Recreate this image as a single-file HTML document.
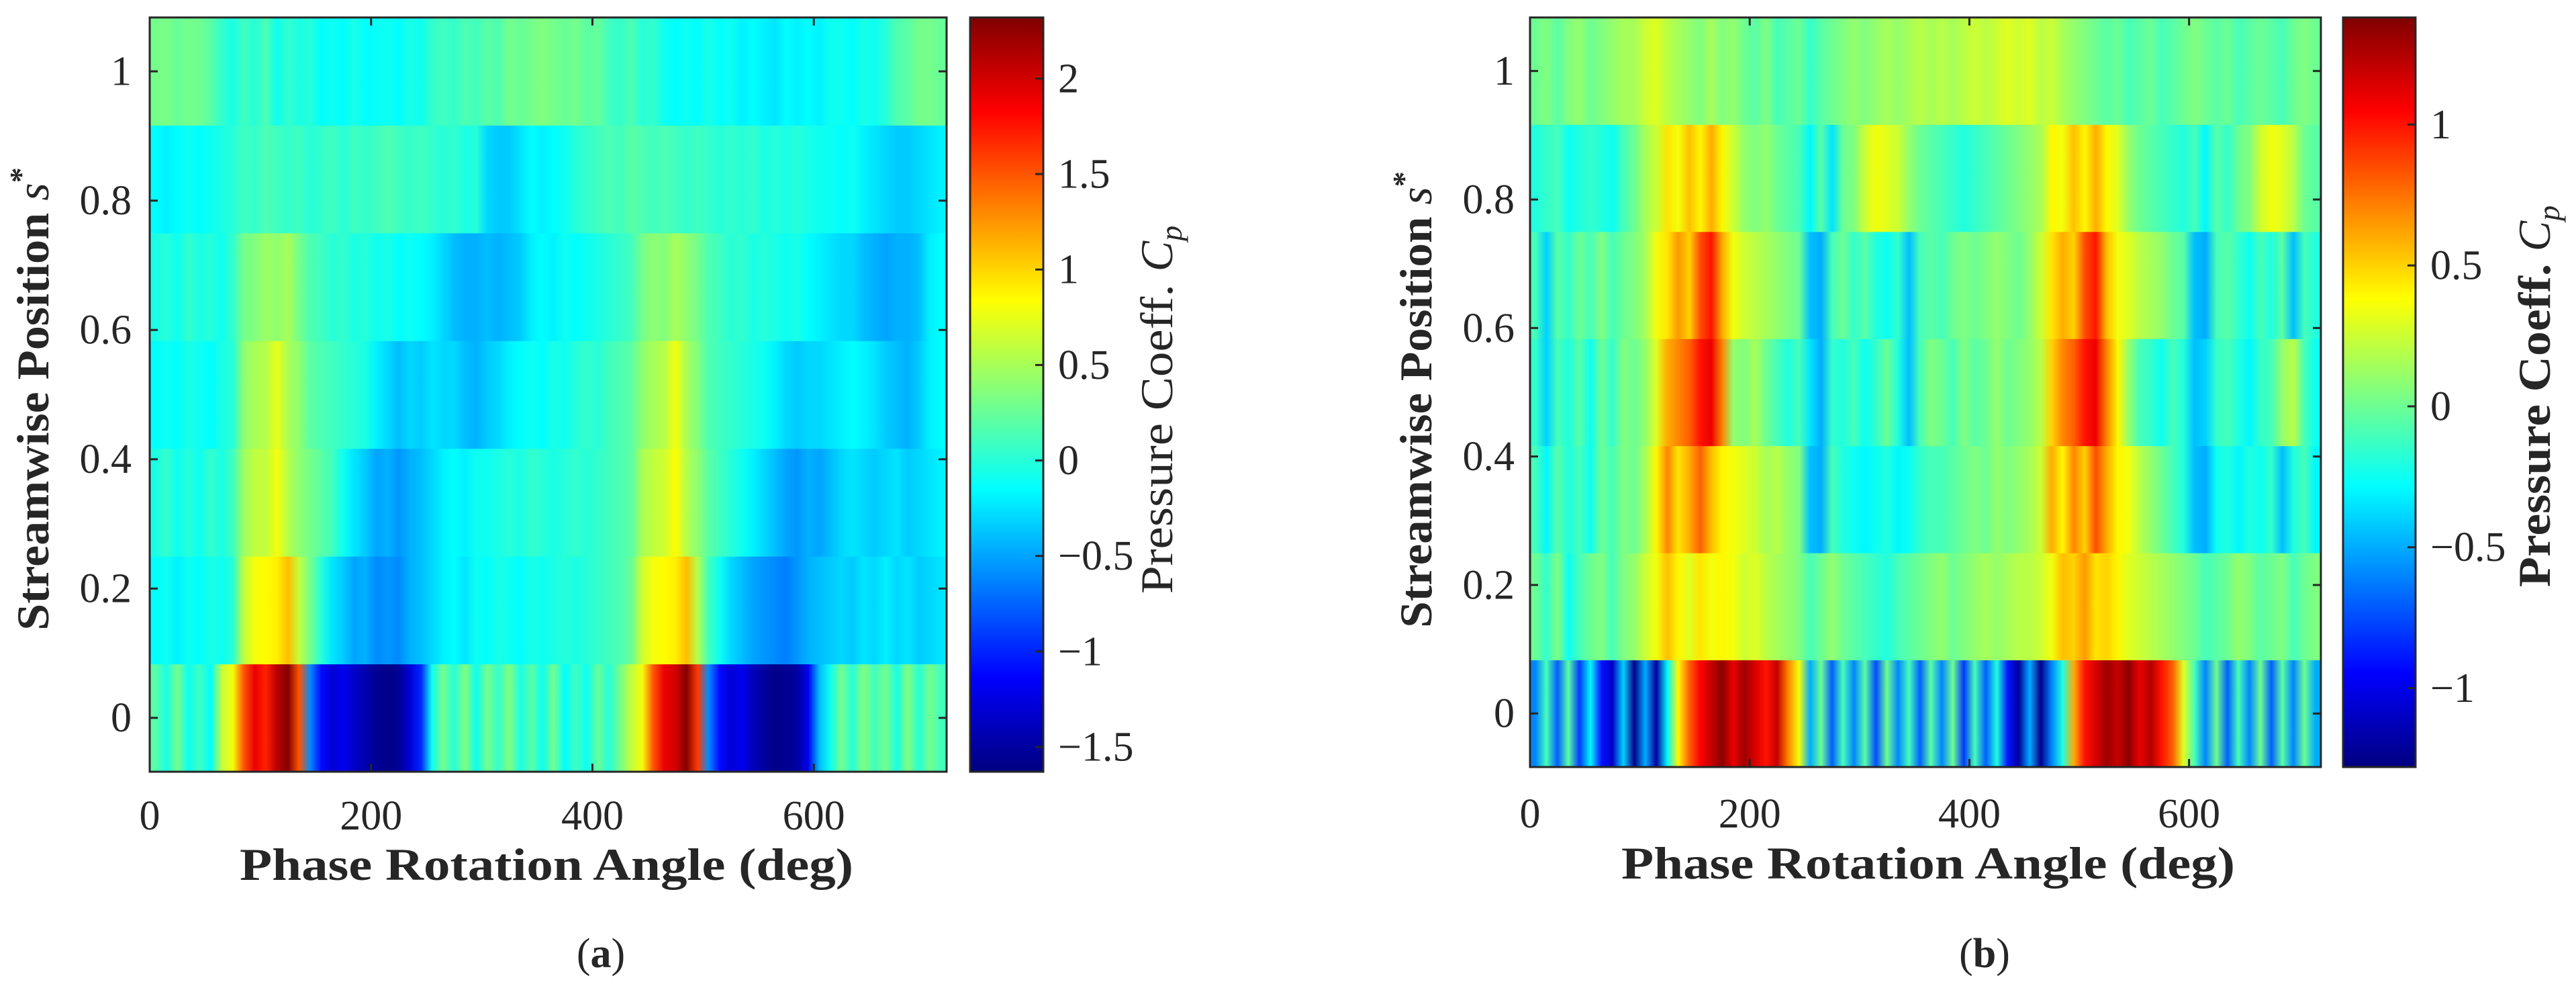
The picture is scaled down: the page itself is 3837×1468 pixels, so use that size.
<!DOCTYPE html>
<html><head><meta charset="utf-8"><style>
html,body{margin:0;padding:0;background:#fff;}
svg{display:block;}
text{font-family:"Liberation Serif",serif;fill:#262626;}
</style></head><body>
<svg id="fig" width="3837" height="1468" viewBox="0 0 3837 1468" xmlns="http://www.w3.org/2000/svg">
<defs id="defs"></defs>
</svg>
<script>
// ---------- data ----------
const rowPositions = [0, 1/6, 2/6, 3/6, 4/6, 5/6, 1];
const xTicks = [0, 200, 400, 600];
const yTicks = [0, 0.2, 0.4, 0.6, 0.8, 1];
const yTickLabels = ["0", "0.2", "0.4", "0.6", "0.8", "1"];
const cbTicksA = [-1.5, -1, -0.5, 0, 0.5, 1, 1.5, 2];
const cbTickLabelsA = ["\u22121.5", "\u22121", "\u22120.5", "0", "0.5", "1", "1.5", "2"];
const cbTicksB = [-1, -0.5, 0, 0.5, 1];
const cbTickLabelsB = ["\u22121", "\u22120.5", "0", "0.5", "1"];
const climA = [-1.63, 2.32];
const climB = [-1.28, 1.38];
// panel (a) rows, s = 0 ... 1, 72 bins of 10 deg
const a_s0 = [0.2,-0.05,0.3,-0.1,0.1,-0.15,0.6,0.8,1.5,1.9,1.7,2.1,2.3,1.5,-0.6,-1.1,-1.3,-1.2,-1.35,-1.45,-1.55,-1.6,-1.55,-1.3,-1.0,-0.1,0.3,0.0,0.35,-0.1,0.3,0.05,0.35,-0.05,0.2,-0.1,0.3,-0.15,0.1,-0.1,0.25,0.0,0.3,0.6,0.8,1.5,1.9,2.0,2.3,1.6,-0.6,-1.1,-1.3,-1.2,-1.4,-1.5,-1.6,-1.55,-1.5,-1.2,-0.4,-0.1,0.3,0.0,0.35,0.1,0.3,-0.05,0.35,0.0,0.3,0.1];
const a_s1 = [-0.15,-0.1,-0.2,-0.1,-0.15,-0.05,-0.1,0.0,0.6,0.8,0.85,0.9,1.1,0.6,0.3,0.0,-0.25,-0.35,-0.5,-0.45,-0.6,-0.55,-0.6,-0.45,-0.4,-0.3,-0.2,-0.15,-0.25,-0.1,-0.15,-0.05,-0.1,-0.15,-0.05,-0.1,-0.05,0.0,-0.05,0.0,0.05,0.1,0.15,0.25,0.65,0.8,0.85,0.9,1.1,0.55,0.1,-0.1,-0.3,-0.4,-0.5,-0.55,-0.6,-0.65,-0.55,-0.45,-0.4,-0.35,-0.3,-0.35,-0.25,-0.3,-0.2,-0.3,-0.25,-0.35,-0.3,-0.25];
const a_s2 = [-0.05,0.05,-0.1,0.0,-0.1,0.05,-0.05,0.1,0.45,0.6,0.6,0.8,0.55,0.4,0.3,0.2,0.1,-0.1,-0.25,-0.35,-0.5,-0.45,-0.55,-0.45,-0.4,-0.3,-0.2,-0.15,-0.2,-0.1,-0.1,-0.05,0.0,-0.05,0.05,0.0,-0.05,0.0,0.05,0.0,0.05,0.1,0.15,0.2,0.5,0.6,0.65,0.85,0.55,0.4,0.2,0.1,0.0,-0.1,-0.2,-0.3,-0.4,-0.5,-0.55,-0.45,-0.5,-0.4,-0.3,-0.25,-0.3,-0.35,-0.3,-0.25,-0.35,-0.3,-0.25,-0.2];
const a_s3 = [-0.15,-0.1,-0.15,-0.05,-0.1,-0.15,-0.05,0.0,0.4,0.5,0.55,0.75,0.5,0.4,0.2,0.15,0.1,0.05,0.0,-0.05,-0.2,-0.3,-0.4,-0.3,-0.35,-0.25,-0.3,-0.3,-0.4,-0.45,-0.35,-0.3,-0.2,-0.15,-0.1,-0.15,-0.05,-0.1,0.0,0.05,0.0,0.1,0.15,0.2,0.4,0.5,0.55,0.8,0.5,0.35,0.15,0.1,0.05,0.0,-0.05,-0.1,-0.2,-0.3,-0.35,-0.3,-0.3,-0.25,-0.2,-0.15,-0.2,-0.25,-0.35,-0.4,-0.45,-0.35,-0.2,-0.15];
const a_s4 = [-0.05,0.0,-0.1,0.05,-0.05,0.0,-0.1,0.05,0.3,0.35,0.45,0.4,0.5,0.3,0.15,0.1,0.0,0.05,-0.05,0.0,-0.1,-0.05,-0.15,-0.1,-0.15,-0.2,-0.3,-0.4,-0.45,-0.45,-0.4,-0.45,-0.4,-0.35,-0.2,-0.15,-0.2,-0.1,-0.15,-0.1,-0.05,0.0,0.05,0.1,0.3,0.4,0.35,0.5,0.4,0.3,0.15,0.1,0.0,0.05,-0.05,0.0,-0.05,-0.1,-0.05,-0.15,-0.2,-0.25,-0.3,-0.3,-0.4,-0.45,-0.5,-0.45,-0.45,-0.4,-0.2,-0.15];
const a_s5 = [-0.15,-0.2,-0.15,-0.1,-0.15,-0.1,-0.05,0.0,0.1,0.05,0.15,0.1,0.05,0.1,0.0,0.05,0.1,0.0,0.1,0.05,0.1,0.15,0.1,0.05,0.1,0.05,0.0,0.05,-0.05,0.0,-0.3,-0.35,-0.35,-0.25,-0.15,-0.2,-0.15,-0.1,0.0,0.05,0.1,0.15,0.1,0.2,0.15,0.1,0.15,0.1,0.05,0.1,0.05,0.0,0.05,0.0,0.05,-0.05,0.0,-0.05,0.0,-0.05,-0.1,-0.1,-0.15,-0.1,-0.2,-0.25,-0.3,-0.35,-0.35,-0.3,-0.25,-0.2];
const a_s6 = [0.3,0.32,0.25,0.3,0.28,0.2,0.05,-0.05,0.1,0.0,0.15,-0.1,0.05,-0.05,0.0,-0.15,-0.1,-0.15,-0.05,-0.15,-0.12,-0.1,-0.15,-0.05,-0.1,0.05,0.1,0.05,0.15,0.1,0.2,0.15,0.3,0.25,0.3,0.35,0.3,0.25,0.3,0.2,0.25,0.1,0.05,0.15,0.0,0.05,-0.1,-0.15,-0.1,-0.15,-0.05,-0.15,-0.1,-0.2,-0.15,-0.2,-0.25,-0.15,-0.2,-0.15,-0.2,-0.1,-0.1,-0.15,-0.05,-0.1,0.0,0.15,0.2,0.3,0.3,0.25];
// panel (b) rows
const b_s0 = [-0.6,-0.1,-0.7,-0.05,-0.8,-0.3,-0.9,-1.1,-0.4,-1.25,-0.5,-1.2,-0.3,0.4,0.8,1.05,1.2,1.35,1.1,1.3,1.15,1.0,1.2,0.7,0.35,-0.5,0.0,-0.7,-0.1,-0.6,-0.05,-0.75,0.0,-0.6,-0.1,-0.7,-0.05,-0.6,0.0,-0.8,-0.1,-0.7,-0.2,-0.9,-1.2,-0.5,-1.25,-0.6,-0.2,0.6,1.0,1.15,1.3,1.2,1.35,1.1,1.25,1.0,0.8,0.3,-0.1,-0.6,0.0,-0.7,-0.1,-0.6,0.0,-0.7,-0.05,-0.6,0.0,-0.5];
const b_s1 = [0.0,-0.15,0.05,-0.25,-0.1,0.0,0.05,-0.1,0.05,0.1,0.25,0.35,0.55,0.4,0.3,0.45,0.35,0.4,0.35,0.25,0.3,0.2,0.15,0.1,0.05,-0.1,0.0,0.1,0.0,-0.05,-0.1,-0.15,-0.2,-0.1,-0.05,0.0,0.05,0.1,0.0,0.05,0.1,0.15,0.1,0.15,0.2,0.2,0.25,0.35,0.55,0.5,0.65,0.45,0.5,0.4,0.3,0.25,0.2,0.15,0.1,0.05,0.0,-0.1,-0.05,0.0,0.1,0.05,-0.05,0.0,0.05,-0.1,0.0,0.05];
const b_s2 = [-0.1,-0.3,-0.05,-0.2,-0.1,-0.25,0.0,-0.1,0.05,0.0,0.15,0.4,0.7,0.45,0.6,0.8,0.55,0.4,0.35,0.3,0.25,0.15,0.2,0.1,0.05,-0.45,-0.5,-0.1,-0.2,-0.25,-0.3,-0.25,-0.2,-0.3,-0.25,-0.15,-0.1,-0.1,-0.05,0.0,0.05,0.0,0.1,0.05,0.1,0.15,0.25,0.6,0.4,0.7,0.5,0.85,0.6,0.4,0.35,0.2,0.1,0.0,-0.1,-0.2,-0.45,-0.5,-0.25,-0.2,-0.3,-0.2,-0.25,-0.15,-0.45,-0.2,-0.1,-0.3];
const b_s3 = [-0.15,-0.4,-0.1,-0.2,-0.05,-0.25,0.0,-0.15,0.05,0.0,0.1,0.3,0.6,0.7,0.8,1.0,1.1,0.7,0.1,0.05,0.15,0.0,-0.1,-0.2,-0.1,-0.35,-0.5,-0.15,-0.2,-0.1,-0.25,-0.15,0.0,-0.2,-0.45,-0.1,0.05,0.0,-0.1,0.05,-0.05,0.0,0.1,0.0,0.05,0.1,0.2,0.5,0.7,0.8,1.0,1.1,0.7,0.4,0.1,-0.1,-0.15,-0.25,-0.1,-0.2,-0.45,-0.4,-0.15,-0.1,-0.2,-0.3,-0.15,-0.1,0.1,0.2,-0.1,-0.25];
const b_s4 = [-0.1,-0.4,-0.05,-0.15,0.0,-0.1,0.05,-0.1,0.0,0.05,0.15,0.35,0.45,0.65,0.5,0.85,1.0,0.6,0.35,0.25,0.2,0.15,0.1,0.05,0.0,-0.45,-0.5,-0.1,0.0,-0.15,-0.05,-0.2,-0.25,-0.15,-0.45,-0.1,-0.05,-0.1,0.0,0.05,0.0,0.05,0.1,0.05,0.0,0.1,0.25,0.45,0.6,0.5,0.85,1.0,0.55,0.35,0.3,0.2,0.15,0.1,0.0,-0.05,-0.45,-0.5,-0.1,-0.05,-0.15,-0.25,-0.1,-0.2,-0.05,-0.45,-0.1,-0.2];
const b_s5 = [-0.2,-0.15,-0.1,-0.25,-0.2,-0.15,-0.2,-0.25,-0.1,0.0,0.15,0.25,0.45,0.35,0.55,0.4,0.6,0.4,0.25,0.1,0.05,0.1,0.0,-0.05,-0.1,-0.3,-0.05,-0.35,0.0,0.05,0.25,0.35,0.3,0.25,0.1,0.0,-0.05,-0.1,-0.15,-0.2,-0.15,-0.1,-0.05,0.0,0.05,0.1,0.15,0.4,0.35,0.55,0.4,0.6,0.4,0.3,0.1,0.0,-0.05,-0.1,-0.15,-0.2,-0.1,-0.3,-0.05,-0.15,0.0,0.05,0.25,0.35,0.3,0.2,0.0,-0.05];
const b_s6 = [0.0,0.05,-0.05,0.05,0.1,0.0,0.05,0.1,0.15,0.15,0.25,0.3,0.2,0.15,0.1,0.05,0.15,0.05,0.1,0.0,-0.05,0.05,-0.1,-0.05,0.0,-0.15,-0.05,0.0,0.05,0.1,0.05,0.1,0.15,0.1,0.15,0.2,0.15,0.2,0.15,0.2,0.25,0.2,0.25,0.3,0.25,0.3,0.2,0.25,0.15,0.1,0.05,0.0,-0.05,0.0,-0.1,-0.05,0.0,-0.1,-0.05,0.0,0.05,0.0,-0.05,0.0,-0.1,-0.05,0.0,-0.05,-0.1,0.0,0.05,0.0];
const rowsA = [a_s0, a_s1, a_s2, a_s3, a_s4, a_s5, a_s6];
const rowsB = [b_s0, b_s1, b_s2, b_s3, b_s4, b_s5, b_s6];

// ---------- helpers ----------
const NS = "http://www.w3.org/2000/svg";
const svg = document.getElementById("fig");
const defs = document.getElementById("defs");
function mk(tag, attrs, parent) {
  const e = document.createElementNS(NS, tag);
  for (const k in attrs) e.setAttribute(k, attrs[k]);
  (parent || svg).appendChild(e);
  return e;
}
function jet(t) {
  t = Math.max(0, Math.min(1, t));
  const c = v => Math.round(255 * Math.max(0, Math.min(1, v)));
  return "rgb(" + c(1.5 - Math.abs(4 * t - 3)) + "," + c(1.5 - Math.abs(4 * t - 2)) + "," + c(1.5 - Math.abs(4 * t - 1)) + ")";
}

function drawPanel(P) {
  const xS = v => P.x0 + (v - 0) / 720 * (P.x1 - P.x0);
  const yMin = -1 / 12, yMax = 1 + 1 / 12;
  const yS = v => P.y1 - (v - yMin) / (yMax - yMin) * (P.y1 - P.y0);
  const cS = v => (v - P.clim[0]) / (P.clim[1] - P.clim[0]);
  const g = mk("g", {});
  
  
  P.rows.forEach((vals, r) => {
    const gid = P.id + "-grad-" + r;
    const lg = mk("linearGradient", { id: gid, x1: "0", y1: "0", x2: "1", y2: "0" }, defs);
    vals.forEach((v, i) => {
      mk("stop", { offset: ((i + 0.5) / vals.length).toFixed(4), "stop-color": jet(cS(v)) }, lg);
    });
    const yc = rowPositions[r];
    const ytop = yS(yc + 1 / 12), ybot = yS(yc - 1 / 12);
    const rect = mk("rect", { x: xS(0), y: ytop - 0.5, width: xS(720) - xS(0), height: ybot - ytop + 1, fill: "url(#" + gid + ")" }, g);
    
    
  });
  const frame = mk("rect", { x: P.x0, y: P.y0, width: P.x1 - P.x0, height: P.y1 - P.y0, fill: "none", stroke: "#262626", "stroke-width": 3 });
  
  
  xTicks.forEach(t => {
    const x = xS(t);
    mk("line", { x1: x, y1: P.y1, x2: x, y2: P.y1 - 12, stroke: "#262626", "stroke-width": 3 });
    mk("line", { x1: x, y1: P.y0, x2: x, y2: P.y0 + 12, stroke: "#262626", "stroke-width": 3 });
    const tx = mk("text", { x: x, y: P.xtickY, "font-size": P.fs, "text-anchor": "middle" });
    tx.textContent = String(t);
    
    
  });
  yTicks.forEach((t, i) => {
    const y = yS(t);
    mk("line", { x1: P.x0, y1: y, x2: P.x0 + 12, y2: y, stroke: "#262626", "stroke-width": 3 });
    mk("line", { x1: P.x1, y1: y, x2: P.x1 - 12, y2: y, stroke: "#262626", "stroke-width": 3 });
    const tx = mk("text", { x: P.ytickX, y: y + P.fs * 0.33, "font-size": P.fs, "text-anchor": "end" });
    tx.textContent = yTickLabels[i];
    
    
  });
  const xl = mk("text", { x: P.xlabX, y: P.xlabY, "font-size": 68, "font-weight": "bold", "text-anchor": "middle", textLength: 914, lengthAdjust: "spacingAndGlyphs" });
  xl.textContent = "Phase Rotation Angle (deg)";
  
  
  const yl = mk("text", { x: 0, y: 0, "font-size": 68, "font-weight": "bold", "text-anchor": "middle", transform: "translate(" + P.ylabX + "," + P.ylabY + ") rotate(-90)" });
  yl.innerHTML = '<tspan textLength="' + P.ylabLen + '" lengthAdjust="spacingAndGlyphs">Streamwise Position </tspan><tspan font-style="italic" font-weight="normal">s</tspan><tspan font-size="46" dy="-26">*</tspan>';
  
  
  // colorbar
  const cg = mk("linearGradient", { id: P.id + "-cbgrad", x1: "0", y1: "1", x2: "0", y2: "0" }, defs);
  for (let i = 0; i <= 16; i++) mk("stop", { offset: i / 16, "stop-color": jet(i / 16) }, cg);
  const cb = mk("rect", { x: P.cbx0, y: P.y0, width: P.cbx1 - P.cbx0, height: P.cby1 - P.y0, fill: "url(#" + P.id + "-cbgrad)", stroke: "#262626", "stroke-width": 3 });
  
  
  const cY = v => P.cby1 - cS(v) * (P.cby1 - P.y0);
  P.cbTicks.forEach((t, i) => {
    const y = cY(t);
    mk("line", { x1: P.cbx1, y1: y, x2: P.cbx1 - 12, y2: y, stroke: "#262626", "stroke-width": 3 });
    const tx = mk("text", { x: P.cbx1 + 22, y: y + P.fs * 0.33, "font-size": P.fs });
    tx.textContent = P.cbLabels[i];
    
    
  });
  const cl = mk("text", { x: 0, y: 0, "font-size": 68, "font-weight": P.cbBold ? "bold" : "normal", "text-anchor": "middle", transform: "translate(" + P.cblX + "," + P.cblY + ") rotate(-90)" });
  cl.innerHTML = '<tspan textLength="' + P.cblLen + '" lengthAdjust="spacingAndGlyphs">Pressure Coeff. </tspan><tspan font-style="italic" font-weight="normal">C</tspan><tspan font-style="italic" font-weight="normal" font-size="46" dy="14">p</tspan>';
  
  
  const cap = mk("text", { x: P.capX, y: 1440, "font-size": 62, "text-anchor": "middle" });
  cap.innerHTML = '(<tspan font-weight="bold">' + P.letter + '</tspan>)';
  
  
}

drawPanel({ id: "panel-a", letter: "a", rows: rowsA, clim: climA, x0: 223, x1: 1410, y0: 26, y1: 1149,
  cbx0: 1445, cbx1: 1554, cby1: 1149, cbTicks: cbTicksA, cbLabels: cbTickLabelsA, fs: 62,
  xtickY: 1235, ytickX: 196, xlabX: 814, xlabY: 1310, ylabX: 72, ylabY: 594, ylabLen: 640, cblX: 1746, cblY: 610, cblLen: 480, cbBold: false, capX: 895 });
drawPanel({ id: "panel-b", letter: "b", rows: rowsB, clim: climB, x0: 2279, x1: 3457, y0: 26, y1: 1142,
  cbx0: 3490, cbx1: 3598, cby1: 1142, cbTicks: cbTicksB, cbLabels: cbTickLabelsB, fs: 62,
  xtickY: 1232, ytickX: 2256, xlabX: 2872, xlabY: 1308, ylabX: 2132, ylabY: 595, ylabLen: 630, cblX: 3798, cblY: 590, cblLen: 500, cbBold: true, capX: 2956 });
</script>
</body></html>
